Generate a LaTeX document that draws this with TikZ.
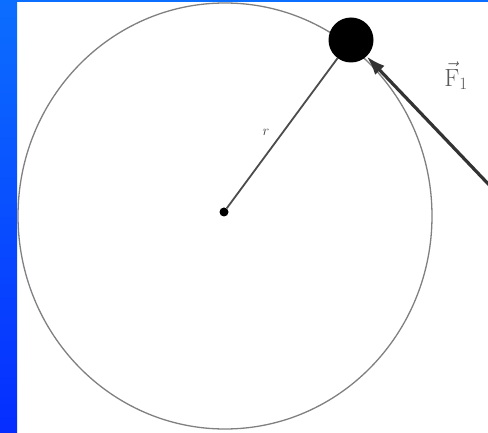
\documentclass[tikz,border=0pt]{standalone}
\usetikzlibrary{arrows.meta}
\definecolor{slideblue}{RGB}{12,110,255}
\definecolor{slidedeep}{RGB}{5,45,255}
\begin{document}
\begin{tikzpicture}[x=1pt,y=-1pt,
  orbit/.style={draw=black!50, line width=1.3pt},
  spoke/.style={draw=black!70, line width=1.8pt},
  force/.style={draw=black!80, line width=3.2pt, -{Latex[length=19pt,width=13pt]}},
  mass/.style={circle, fill=black, minimum size=45pt, inner sep=0pt},
  pivot/.style={circle, fill=black, minimum size=9pt, inner sep=0pt}]
  \useasboundingbox (0,0) rectangle (488,433);
  \clip (0,0) rectangle (488,433);
  \fill[white] (0,0) rectangle (488,433);
  \shade[top color=slideblue, bottom color=slidedeep] (0,0) rectangle (17,433);
  \fill[slideblue] (0,0) rectangle (488,2);
  % orbit and body
  \draw[orbit] (225,216) ellipse [x radius=207, y radius=213];
  \node[pivot] (o) at (224,212) {};
  \node[mass] (m) at (351,40) {};
  \coordinate (ft) at (494,190);
  \draw[spoke] (o) -- (m);
  \node[text=black!75, font=\fontsize{15}{18}\selectfont] (r) at (266,132) {$r$};
  % force
  \draw[force] (ft) -- (m);
  \node[text=black!65, font=\fontsize{25}{30}\selectfont] (f) at (456,76) {$\vec{\mathrm{F}}_{1}$};
\end{tikzpicture}
\end{document}
